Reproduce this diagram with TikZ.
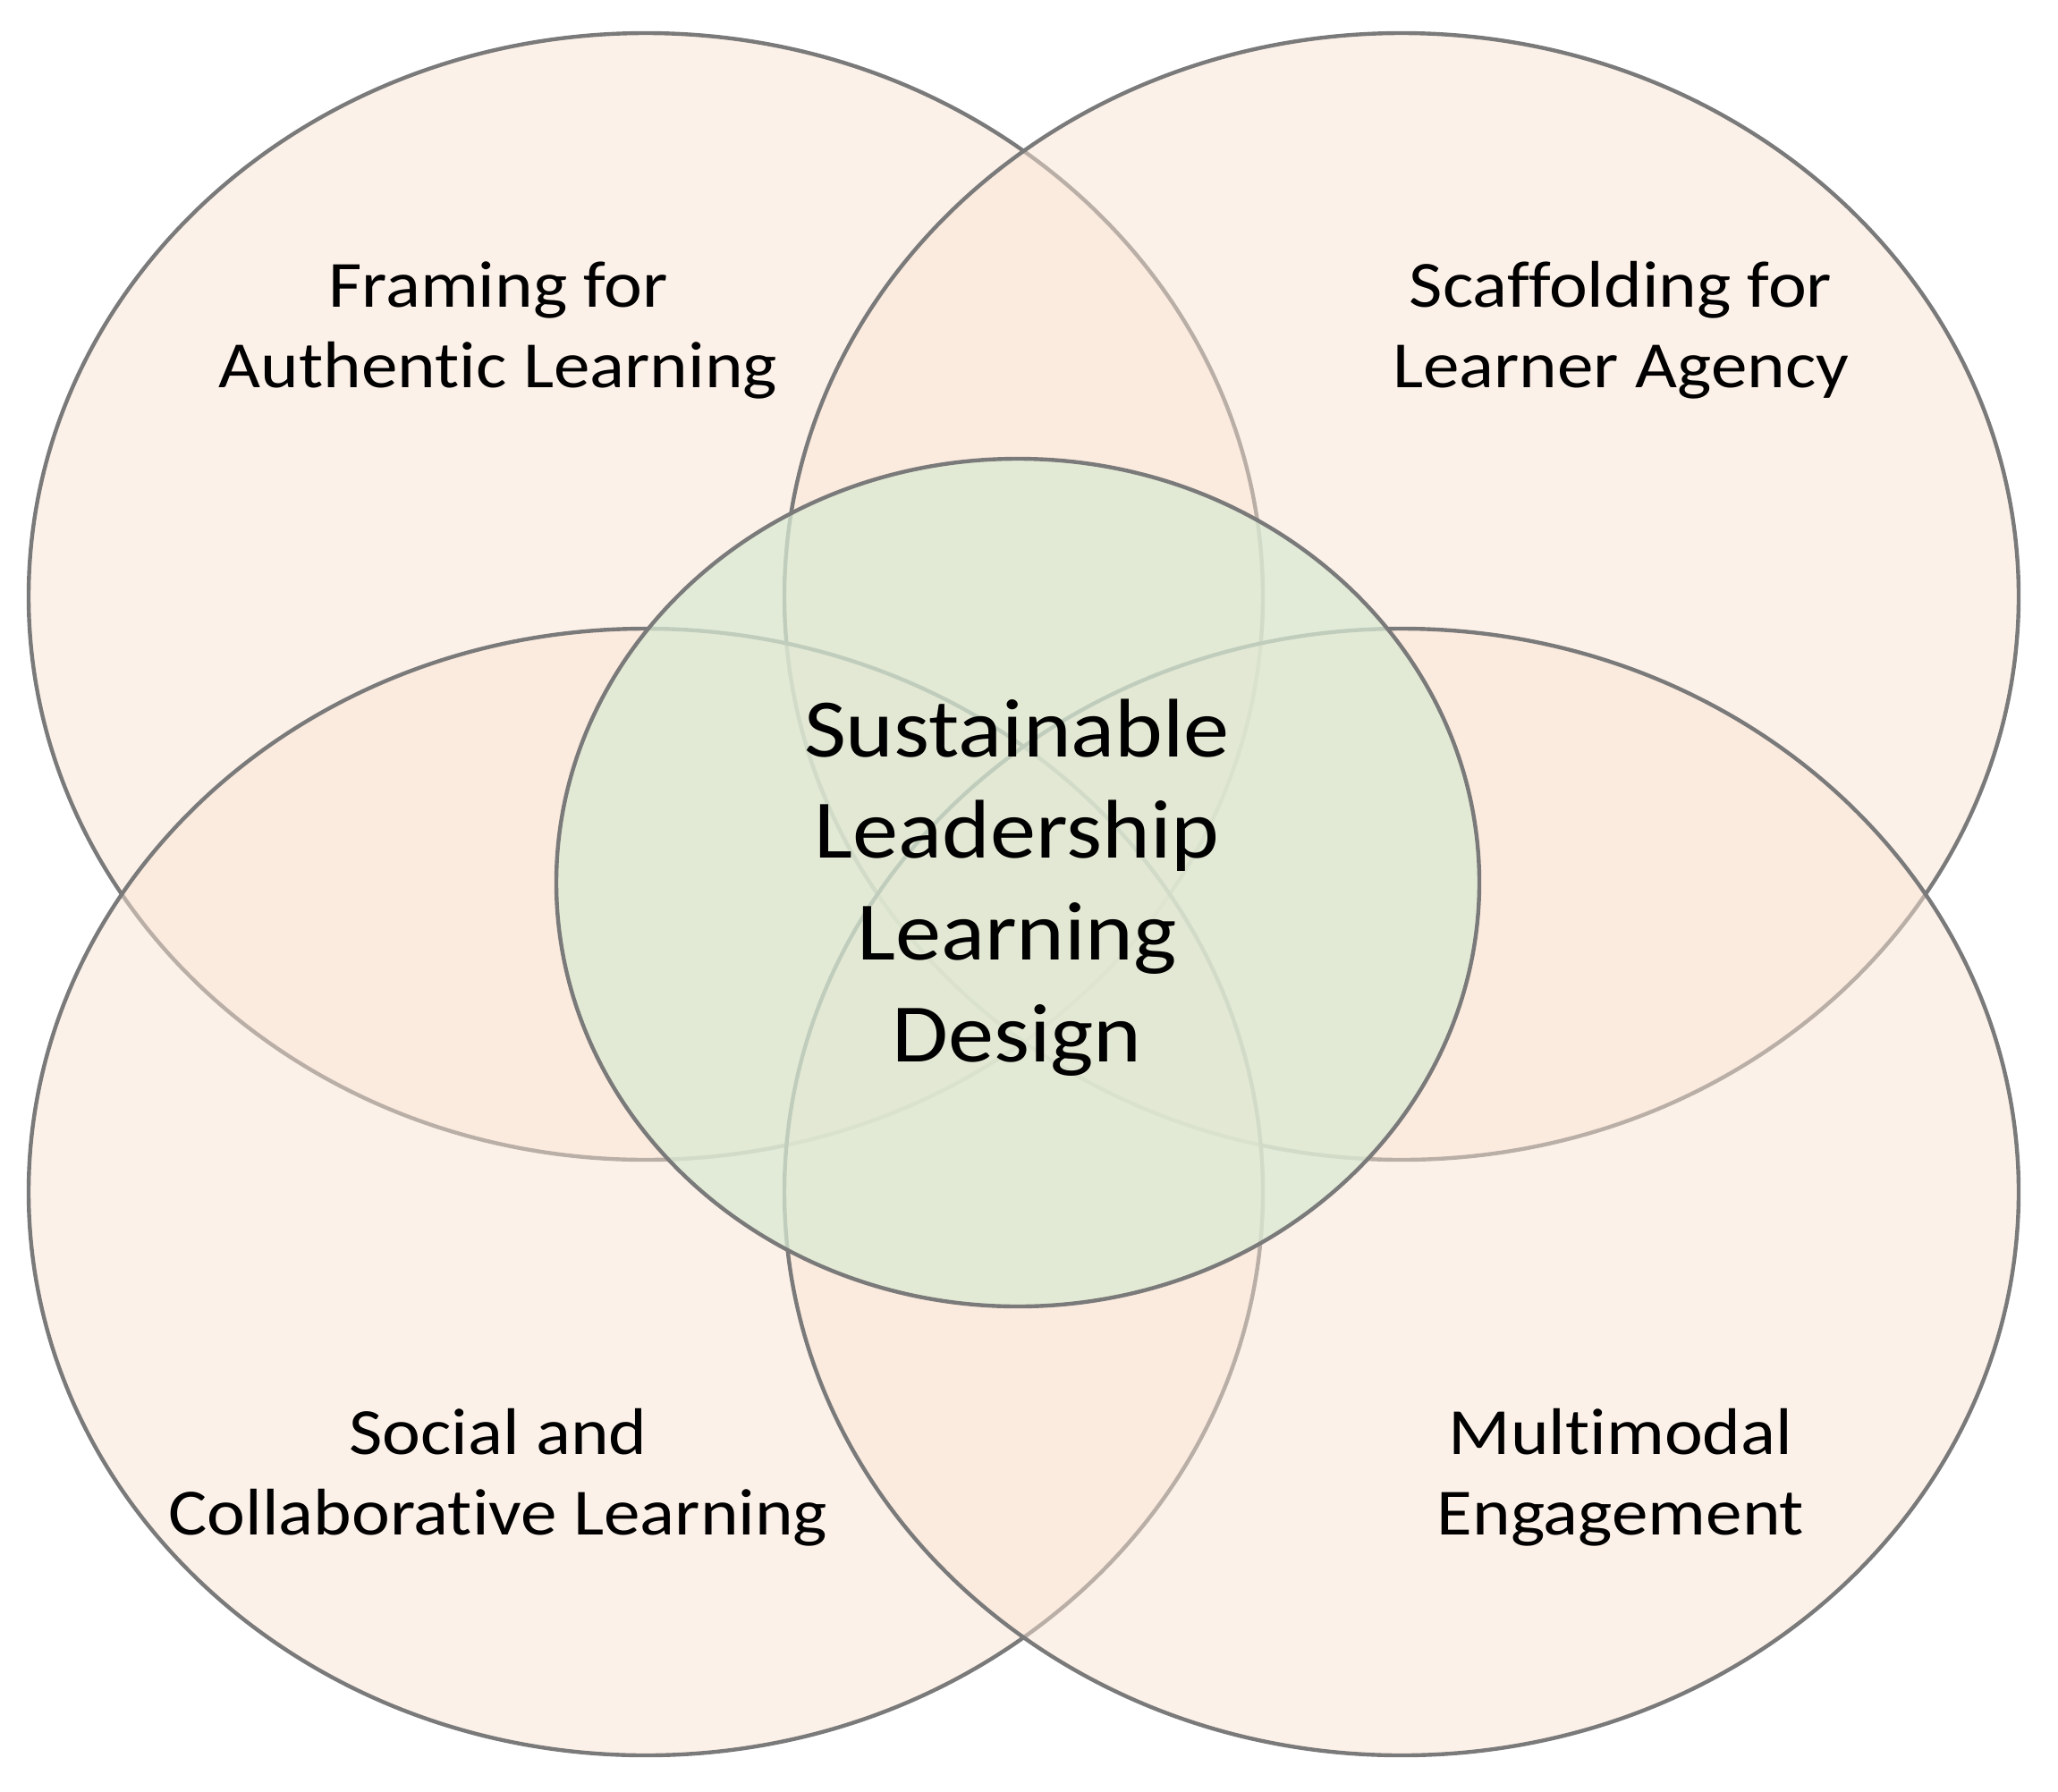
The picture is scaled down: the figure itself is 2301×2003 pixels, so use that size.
\documentclass[tikz,border=0pt]{standalone}
\usepackage{fontspec}
\setmainfont{Carlito}[Ligatures={NoCommon}]
\usepackage{graphicx}
\definecolor{peach}{HTML}{FBE4D5}
\definecolor{sage}{HTML}{DAEAD3}
\definecolor{rimgray}{HTML}{7A7A7A}
\tikzset{
  petal/.style={fill=peach, fill opacity=0.5, draw=rimgray, draw opacity=1, line width=1.1pt},
  core/.style={fill=sage, fill opacity=0.75, draw=rimgray, draw opacity=1, line width=1.1pt},
  lbl/.style={anchor=base, inner sep=0pt, text=black, font=\fontsize{18.45}{22.5}\selectfont},
  corelbl/.style={anchor=base, inner sep=0pt, text=black, font=\fontsize{23.25}{28.4}\selectfont}
}
\newcommand{\stretchtext}[1]{\scalebox{1.1}[1]{\begin{tabular}[b]{@{}c@{}}#1\end{tabular}}}
\begin{document}
\begin{tikzpicture}[x=0.25pt, y=-0.25pt]
  \useasboundingbox (0,0) rectangle (2301,2003);
  \fill[white] (0,0) rectangle (2301,2003);
  \draw[petal] (722,667) ellipse [x radius=172.5pt, y radius=157.5pt];
  \draw[petal] (1567,667) ellipse [x radius=172.5pt, y radius=157.5pt];
  \draw[petal] (722,1333) ellipse [x radius=172.5pt, y radius=157.5pt];
  \draw[petal] (1567,1333) ellipse [x radius=172.5pt, y radius=157.5pt];
  \draw[core] (1138,987) ellipse [x radius=129pt, y radius=118.5pt];
  \node[lbl] (framing) at (557,433) {\stretchtext{Framing for\\Authentic Learning}};
  \node[lbl] (scaffold) at (1812,433) {\stretchtext{Scaffolding for\\Learner Agency}};
  \node[lbl] (social) at (557,1716) {\stretchtext{Social and\\Collaborative Learning}};
  \node[lbl] (multi) at (1812,1716) {\stretchtext{Multimodal\\Engagement}};
  \node[corelbl] (core) at (1137,1187) {\stretchtext{Sustainable\\Leadership\\Learning\\Design}};
\end{tikzpicture}
\end{document}
